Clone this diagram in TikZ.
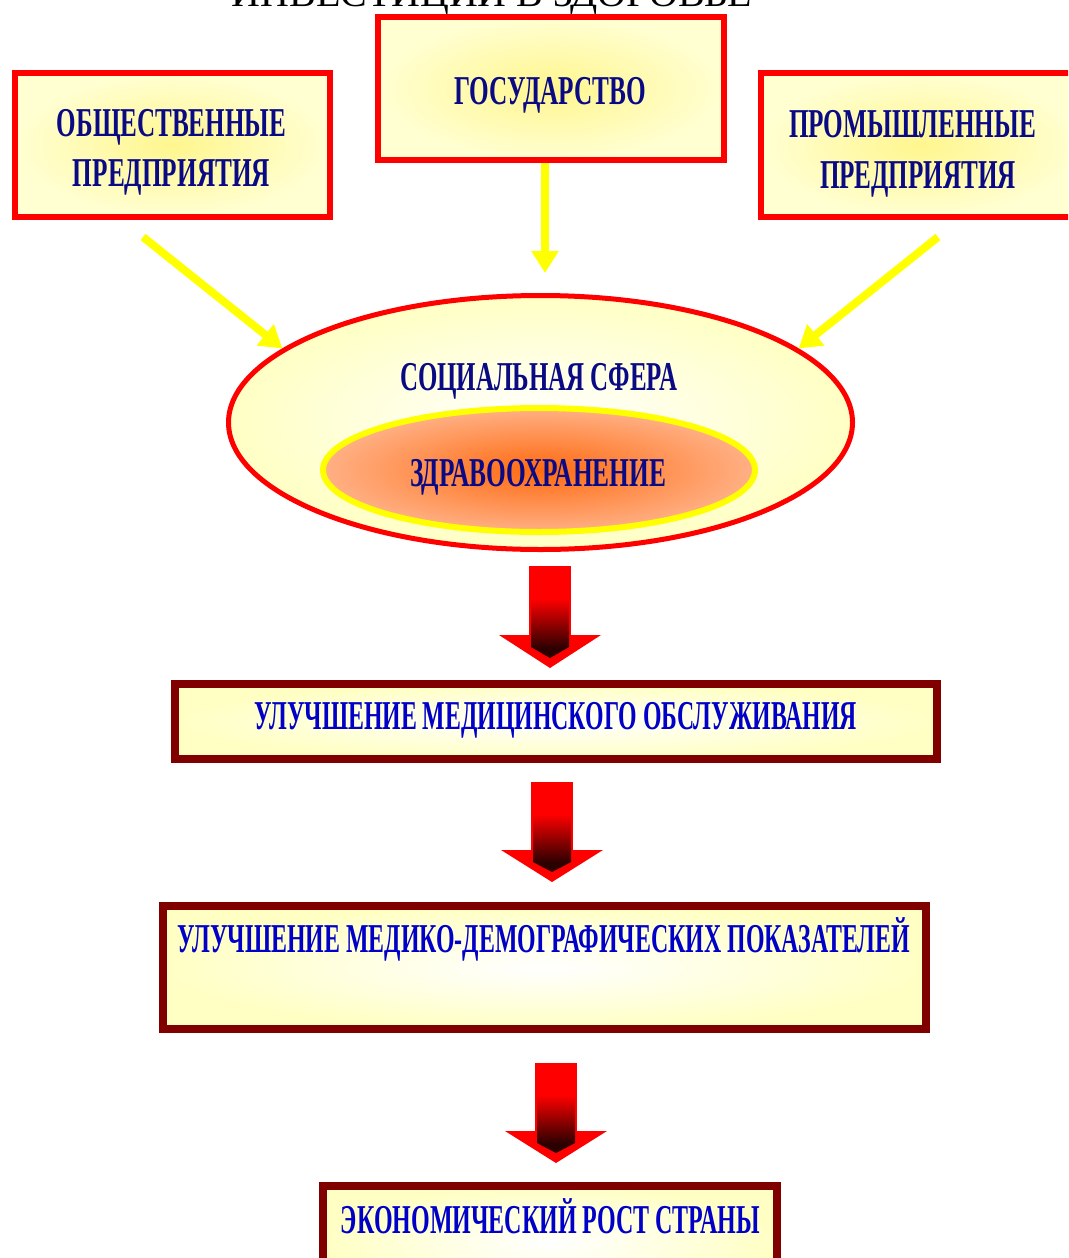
\documentclass[tikz,border=0pt]{standalone}
\usepackage{fontspec}
\setmainfont{Liberation Serif}
\usetikzlibrary{arrows.meta,shapes.geometric}
\definecolor{navyt}{HTML}{0A0A85}
\definecolor{bluet}{HTML}{0000C8}
\definecolor{boxred}{HTML}{FF0000}
\definecolor{maroonb}{HTML}{800000}
\definecolor{paleY}{HTML}{FFFFD2}
\definecolor{midY}{HTML}{FFF68E}
\definecolor{ellY}{HTML}{FFFFC4}
\definecolor{orangeC}{HTML}{FF6A10}
\definecolor{orangeE}{HTML}{FFB085}
\definecolor{darkR}{HTML}{2A0000}
\definecolor{yarrC}{HTML}{FFFF00}
\pgfdeclareverticalshading{redarr}{100bp}{color(0bp)=(darkR); color(30bp)=(darkR); color(58bp)=(red); color(100bp)=(red)}
\newcommand\tw[2]{\resizebox{#1pt}{\height}{#2}}
\newcommand\redarrow[5]{%
  \fill[red] (#1-#5,#3) -- (#1+#5,#3) -- (#1,#4) -- cycle;
  \fill[red] (#1-21,#2) rectangle (#1+21,#3+2);
  \shade[shading=redarr] (#1-19,#2+2) -- (#1+19,#2+2) -- (#1+19,#3+12) -- (#1,#4-10) -- (#1-19,#3+12) -- cycle;
}
\begin{document}
\begin{tikzpicture}[x=1pt,y=-1pt,
  lbl/.style={inner sep=0pt, anchor=base, font=\bfseries\fontsize{41}{44}\selectfont, text=navyt},
  lblb/.style={lbl, text=bluet},
  rbox/.style={rectangle, draw=boxred, line width=6pt, inner color=midY, outer color=paleY, inner sep=0pt},
  mbox/.style={rectangle, draw=maroonb, line width=8pt, inner color=white, outer color=ellY, inner sep=0pt},
  yarr/.style={draw=yarrC, line width=8pt, -{Triangle[width=26pt,length=22pt]}}
]
\useasboundingbox (0,0) rectangle (1068,1258);
\clip (0,0) rectangle (1068,1258);

% title (cut off at top)
\node[inner sep=0pt, anchor=base, font=\fontsize{38}{40}\selectfont] (title) at (492,7) {\tw{520}{ИНВЕСТИЦИИ В ЗДОРОВЬЕ}};

% top boxes
\node[rbox, minimum width=346pt, minimum height=143pt] (gos) at (551,88.5) {};
\node[rbox, minimum width=315pt, minimum height=144pt] (obsh) at (172.5,145) {};
\node[rbox, minimum width=319pt, minimum height=144pt] (prom) at (920.5,145) {};

\node[lbl] (tgos) at (550,104) {\tw{192}{ГОСУДАРСТВО}};
\node[lbl] (tob1) at (171.5,136) {\tw{229}{ОБЩЕСТВЕННЫЕ}};
\node[lbl] (tob2) at (171.5,186) {\tw{197}{ПРЕДПРИЯТИЯ}};
\node[lbl] (tpr1) at (912.5,137) {\tw{247}{ПРОМЫШЛЕННЫЕ}};
\node[lbl] (tpr2) at (918,188) {\tw{196}{ПРЕДПРИЯТИЯ}};

% ellipses
\node[ellipse, draw=boxred, line width=5pt, inner color=white, outer color=ellY, minimum width=624pt, minimum height=254pt, inner sep=0pt] (soc) at (540.5,422.5) {};
\node[ellipse, draw=yarrC, line width=6pt, inner color=orangeC, outer color=orangeE, minimum width=432pt, minimum height=124pt, inner sep=0pt] (zdr) at (539,470) {};
\node[lbl] (tsoc) at (538.5,390) {\tw{277}{СОЦИАЛЬНАЯ СФЕРА}};
\node[lbl] (tzdr) at (538,486) {\tw{256}{ЗДРАВООХРАНЕНИЕ}};

% yellow arrows
\coordinate (s1) at (143,237);
\coordinate (s3) at (938,237);
\draw[yarr] (s1) -- (soc.164.6);
\draw[yarr] (s3) -- (soc.16.2);
\draw[yarr, shorten >=20pt] ([xshift=-6pt]gos.south) -- ([xshift=4.5pt]soc.north);

% lower boxes
\node[mbox, minimum width=762pt, minimum height=75pt] (med1) at (556,721.5) {};
\node[mbox, minimum width=763pt, minimum height=123pt] (med2) at (544.5,967.5) {};
\node[mbox, minimum width=454pt, minimum height=114pt] (econ) at (550,1243) {};

\node[lblb] (tmed1) at (556,729) {\tw{602}{УЛУЧШЕНИЕ МЕДИЦИНСКОГО ОБСЛУЖИВАНИЯ}};
\node[lblb] (tmed2) at (544,952) {\tw{732}{УЛУЧШЕНИЕ МЕДИКО-ДЕМОГРАФИЧЕСКИХ ПОКАЗАТЕЛЕЙ}};
\node[lblb] (tecon) at (550.5,1233) {\tw{419}{ЭКОНОМИЧЕСКИЙ РОСТ СТРАНЫ}};

% red block arrows
\redarrow{550}{566}{635}{668}{51}
\redarrow{552}{782}{850}{882}{51}
\redarrow{556}{1063}{1131}{1163}{51}
\end{tikzpicture}
\end{document}
